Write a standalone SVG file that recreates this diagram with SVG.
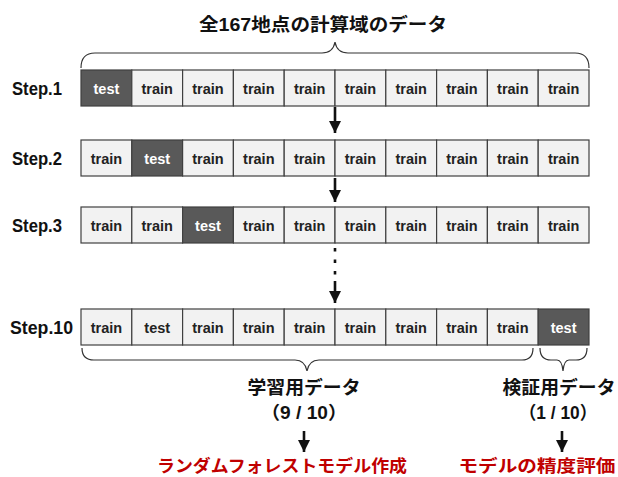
<svg xmlns="http://www.w3.org/2000/svg" width="618" height="477" viewBox="0 0 618 477">
<defs>
<style>
.c{fill:#f2f2f2;stroke:#404040;stroke-width:1.2}
.d{fill:#595959;stroke:#404040;stroke-width:1.2}
.t{font-family:"Liberation Sans",Arial,sans-serif;font-weight:bold;font-size:14.5px;fill:#222;text-anchor:middle}
.tw{font-family:"Liberation Sans",Arial,sans-serif;font-weight:bold;font-size:14.5px;fill:#fff;text-anchor:middle}
.s{font-family:"Liberation Sans",Arial,sans-serif;font-weight:bold;font-size:17.5px;fill:#111}
.j{font-family:"Liberation Sans","Noto Sans CJK JP",sans-serif;font-weight:bold;font-size:18px;fill:#111;text-anchor:middle}
.r{font-family:"Noto Sans CJK JP",sans-serif;font-weight:bold;font-size:17px;fill:#c00000;text-anchor:middle}
.b{fill:none;stroke:#333;stroke-width:1.2}
.ln{stroke:#111;stroke-width:2.6;fill:none}
</style>
<marker id="ah" viewBox="0 0 10 10" refX="10" refY="5" markerWidth="4.8" markerHeight="4.6" markerUnits="strokeWidth" orient="auto">
<path d="M0,0 L10,5 L0,10 z" fill="#111"/>
</marker>
</defs>

<text class="j" x="323" y="31" textLength="248" lengthAdjust="spacingAndGlyphs">全167地点の計算域のデータ</text>

<g id="brace-top"><path class="b" d="M81,68 Q81,53 95,53 L322,53 Q333,53 335,42 Q337,53 348,53 L575,53 Q589,53 589,68"/></g>

<g id="step1">
<text class="s" x="12" y="95" textLength="50" lengthAdjust="spacingAndGlyphs">Step.1</text>
<rect class="d" x="81" y="70" width="50.8" height="36"/><text class="tw" x="106.4" y="94">test</text>
<rect class="c" x="131.8" y="70" width="50.8" height="36"/><text class="t" x="157.2" y="94">train</text>
<rect class="c" x="182.6" y="70" width="50.8" height="36"/><text class="t" x="208" y="94">train</text>
<rect class="c" x="233.4" y="70" width="50.8" height="36"/><text class="t" x="258.8" y="94">train</text>
<rect class="c" x="284.2" y="70" width="50.8" height="36"/><text class="t" x="309.6" y="94">train</text>
<rect class="c" x="335" y="70" width="50.8" height="36"/><text class="t" x="360.4" y="94">train</text>
<rect class="c" x="385.8" y="70" width="50.8" height="36"/><text class="t" x="411.2" y="94">train</text>
<rect class="c" x="436.6" y="70" width="50.8" height="36"/><text class="t" x="462" y="94">train</text>
<rect class="c" x="487.4" y="70" width="50.8" height="36"/><text class="t" x="512.8" y="94">train</text>
<rect class="c" x="538.2" y="70" width="50.8" height="36"/><text class="t" x="563.6" y="94">train</text>
</g>

<g id="step2">
<text class="s" x="12" y="165" textLength="50" lengthAdjust="spacingAndGlyphs">Step.2</text>
<rect class="c" x="81" y="140" width="50.8" height="36"/><text class="t" x="106.4" y="164">train</text>
<rect class="d" x="131.8" y="140" width="50.8" height="36"/><text class="tw" x="157.2" y="164">test</text>
<rect class="c" x="182.6" y="140" width="50.8" height="36"/><text class="t" x="208" y="164">train</text>
<rect class="c" x="233.4" y="140" width="50.8" height="36"/><text class="t" x="258.8" y="164">train</text>
<rect class="c" x="284.2" y="140" width="50.8" height="36"/><text class="t" x="309.6" y="164">train</text>
<rect class="c" x="335" y="140" width="50.8" height="36"/><text class="t" x="360.4" y="164">train</text>
<rect class="c" x="385.8" y="140" width="50.8" height="36"/><text class="t" x="411.2" y="164">train</text>
<rect class="c" x="436.6" y="140" width="50.8" height="36"/><text class="t" x="462" y="164">train</text>
<rect class="c" x="487.4" y="140" width="50.8" height="36"/><text class="t" x="512.8" y="164">train</text>
<rect class="c" x="538.2" y="140" width="50.8" height="36"/><text class="t" x="563.6" y="164">train</text>
</g>

<g id="step3">
<text class="s" x="12" y="232" textLength="50" lengthAdjust="spacingAndGlyphs">Step.3</text>
<rect class="c" x="81" y="207" width="50.8" height="36"/><text class="t" x="106.4" y="231">train</text>
<rect class="c" x="131.8" y="207" width="50.8" height="36"/><text class="t" x="157.2" y="231">train</text>
<rect class="d" x="182.6" y="207" width="50.8" height="36"/><text class="tw" x="208" y="231">test</text>
<rect class="c" x="233.4" y="207" width="50.8" height="36"/><text class="t" x="258.8" y="231">train</text>
<rect class="c" x="284.2" y="207" width="50.8" height="36"/><text class="t" x="309.6" y="231">train</text>
<rect class="c" x="335" y="207" width="50.8" height="36"/><text class="t" x="360.4" y="231">train</text>
<rect class="c" x="385.8" y="207" width="50.8" height="36"/><text class="t" x="411.2" y="231">train</text>
<rect class="c" x="436.6" y="207" width="50.8" height="36"/><text class="t" x="462" y="231">train</text>
<rect class="c" x="487.4" y="207" width="50.8" height="36"/><text class="t" x="512.8" y="231">train</text>
<rect class="c" x="538.2" y="207" width="50.8" height="36"/><text class="t" x="563.6" y="231">train</text>
</g>

<g id="step10">
<text class="s" x="10" y="334" textLength="63" lengthAdjust="spacingAndGlyphs">Step.10</text>
<rect class="c" x="81" y="309" width="50.8" height="36"/><text class="t" x="106.4" y="333">train</text>
<rect class="c" x="131.8" y="309" width="50.8" height="36"/><text class="t" x="157.2" y="333">test</text>
<rect class="c" x="182.6" y="309" width="50.8" height="36"/><text class="t" x="208" y="333">train</text>
<rect class="c" x="233.4" y="309" width="50.8" height="36"/><text class="t" x="258.8" y="333">train</text>
<rect class="c" x="284.2" y="309" width="50.8" height="36"/><text class="t" x="309.6" y="333">train</text>
<rect class="c" x="335" y="309" width="50.8" height="36"/><text class="t" x="360.4" y="333">train</text>
<rect class="c" x="385.8" y="309" width="50.8" height="36"/><text class="t" x="411.2" y="333">train</text>
<rect class="c" x="436.6" y="309" width="50.8" height="36"/><text class="t" x="462" y="333">train</text>
<rect class="c" x="487.4" y="309" width="50.8" height="36"/><text class="t" x="512.8" y="333">train</text>
<rect class="d" x="538.2" y="309" width="50.8" height="36"/><text class="tw" x="563.6" y="333">test</text>
</g>

<g id="brace-train"><path class="b" d="M82,348 Q82,360 94,360 L295,360 Q305,360 307,371 Q309,360 319,360 L522,360 Q533,360 533,348"/></g>
<g id="brace-test"><path class="b" d="M540,348 Q540,360 551,360 L557,360 Q562,360 563,371 Q564,360 569,360 L576,360 Q587,360 587,348"/></g>

<g id="label-train">
<text class="j" x="304" y="394" textLength="113" lengthAdjust="spacingAndGlyphs">学習用データ</text>
<text class="j" x="304" y="419" textLength="86" lengthAdjust="spacingAndGlyphs">（9 / 10）</text>
</g>
<g id="label-test">
<text class="j" x="559" y="394" textLength="113" lengthAdjust="spacingAndGlyphs">検証用データ</text>
<text class="j" x="558" y="419" textLength="78" lengthAdjust="spacingAndGlyphs">（1 / 10）</text>
</g>
<g id="result-train"><text class="r" x="282" y="472" textLength="250" lengthAdjust="spacingAndGlyphs">ランダムフォレストモデル作成</text></g>
<g id="result-test"><text class="r" x="537" y="472" textLength="157" lengthAdjust="spacingAndGlyphs">モデルの精度評価</text></g>

<g id="connectors">
<line class="ln" x1="335" y1="107" x2="335" y2="133" marker-end="url(#ah)"/>
<line class="ln" x1="335" y1="178" x2="335" y2="202" marker-end="url(#ah)"/>
<line class="ln" x1="335" y1="248" x2="335" y2="278" stroke-dasharray="3.5 8"/>
<line class="ln" x1="335" y1="281" x2="335" y2="303" marker-end="url(#ah)"/>
<line class="ln" x1="304" y1="431" x2="304" y2="452" marker-end="url(#ah)"/>
<line class="ln" x1="562" y1="431" x2="562" y2="452" marker-end="url(#ah)"/>
</g>
</svg>
